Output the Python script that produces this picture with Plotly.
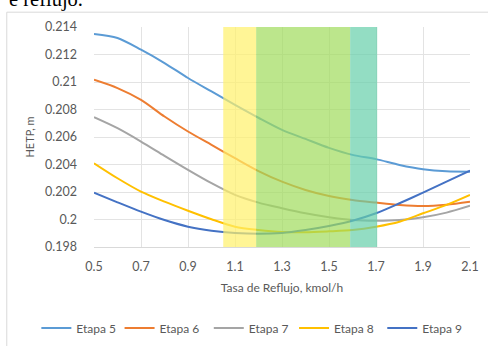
import plotly.graph_objects as go

reflujo = [0.5, 0.6, 0.7, 0.8, 0.9, 1.0, 1.1, 1.2, 1.3, 1.4, 1.5, 1.6, 1.7, 1.8, 1.9, 2.0, 2.1]

etapa5 = [0.21349, 0.2132, 0.21235, 0.21138, 0.21029, 0.20931, 0.20834, 0.2074, 0.20652,
          0.20586, 0.20521, 0.2047, 0.20439, 0.20397, 0.20366, 0.20351, 0.20348]
etapa6 = [0.21016, 0.20956, 0.2087, 0.20749, 0.2064, 0.20543, 0.20446, 0.20352, 0.20275,
          0.20215, 0.20171, 0.20142, 0.20123, 0.20106, 0.20098, 0.20108, 0.2013]
etapa7 = [0.20744, 0.20664, 0.20567, 0.20463, 0.20361, 0.20264, 0.20179, 0.20123, 0.20082,
          0.20045, 0.20016, 0.19996, 0.19991, 0.19996, 0.20016, 0.2005, 0.20100]
etapa8 = [0.20409, 0.2030, 0.20203, 0.2013, 0.20064, 0.20002, 0.19948, 0.19924, 0.19909,
          0.19907, 0.19914, 0.19924, 0.19948, 0.19984, 0.20045, 0.20106, 0.20179]
etapa9 = [0.20195, 0.20125, 0.20057, 0.19996, 0.19948, 0.19919, 0.19902, 0.19896, 0.19902,
          0.19924, 0.19953, 0.19991, 0.20045, 0.20118, 0.20195, 0.20275, 0.20356]

series_names = ["Etapa 5", "Etapa 6", "Etapa 7", "Etapa 8", "Etapa 9"]
series_colors = ["#5B9BD5", "#ED7D31", "#A5A5A5", "#FFC000", "#4472C4"]

x_ticks = [0.5, 0.7, 0.9, 1.1, 1.3, 1.5, 1.7, 1.9, 2.1]
x_ticktext = ["0.5", "0.7", "0.9", "1.1", "1.3", "1.5", "1.7", "1.9", "2.1"]
y_ticks = [0.198, 0.2, 0.202, 0.204, 0.206, 0.208, 0.21, 0.212, 0.214]
y_ticktext = ["0.198", "0.2", "0.202", "0.204", "0.206", "0.208", "0.21", "0.212", "0.214"]

# shaded bands (x ranges)
band_yellow = [1.05, 1.19]
band_green = [1.19, 1.59]
band_teal = [1.59, 1.705]

FONT = "Lato"
GRAY = "#595959"

# one single-entry legend per series, laid out in a row under the chart
legend_ids = ["legend", "legend2", "legend3", "legend4", "legend5"]
legend_x = [-0.1533, 0.068, 0.3053, 0.532, 0.7667]

fig = go.Figure()
for name, col, ys, lid in zip(series_names, series_colors,
                              [etapa5, etapa6, etapa7, etapa8, etapa9], legend_ids):
    fig.add_trace(go.Scatter(x=reflujo, y=ys, mode="lines", name=name, legend=lid,
                             line=dict(color=col, width=2, shape="spline", smoothing=0.8)))

for (x0, x1), col in [(band_yellow, "rgb(255,241,105)"), (band_green, "rgb(160,219,91)"),
                      (band_teal, "rgb(101,207,169)")]:
    fig.add_shape(type="rect", xref="x", yref="y", x0=x0, x1=x1, y0=0.198, y1=0.214,
                  fillcolor=col, opacity=0.7, line=dict(width=0), layer="above")

# chart frame
fig.add_shape(type="rect", xref="paper", yref="paper", x0=-0.232, x1=1.06, y0=-0.5, y1=1.0674,
              line=dict(color="#D9D9D9", width=1), fillcolor="rgba(0,0,0,0)", layer="below")

fig.add_annotation(text="e reflujo.", xref="paper", yref="paper", x=-0.232, y=1.124,
                   xanchor="left", yanchor="middle", showarrow=False,
                   font=dict(family="Liberation Serif", size=20.5, color="#000000"))

legend_layout = {}
for lid, lx in zip(legend_ids, legend_x):
    legend_layout[lid] = dict(orientation="h", x=lx, xanchor="left", y=-0.3687, yanchor="middle",
                              itemwidth=30, bgcolor="rgba(0,0,0,0)",
                              font=dict(family=FONT, size=12, color=GRAY))

fig.update_layout(
    width=488, height=346,
    margin=dict(l=94, r=18, t=27, b=99, autoexpand=False),
    paper_bgcolor="white", plot_bgcolor="white",
    font=dict(family=FONT, size=12, color=GRAY),
    showlegend=True,
    xaxis=dict(range=[0.5, 2.1], tickvals=x_ticks, ticktext=x_ticktext,
               showgrid=True, gridcolor="#E3E3E3", gridwidth=1,
               showline=True, linecolor="#D9D9D9", linewidth=1,
               zeroline=False, ticks="", ticklabelstandoff=8, tickangle=0,
               tickfont=dict(family=FONT, size=12.5, color=GRAY),
               title=dict(text="Tasa de Reflujo, kmol/h", standoff=10,
                          font=dict(family=FONT, size=12, color=GRAY))),
    yaxis=dict(range=[0.198, 0.214], tickvals=y_ticks, ticktext=y_ticktext,
               showgrid=True, gridcolor="#E3E3E3", gridwidth=1,
               showline=False, zeroline=False, ticks="", ticklabelstandoff=16,
               tickfont=dict(family=FONT, size=12.5, color=GRAY),
               title=dict(text="HETP, m", standoff=8,
                          font=dict(family=FONT, size=11, color=GRAY))),
    **legend_layout,
)

fig.write_html("out.html", config={"displayModeBar": False},
               post_script="document.body.style.margin='0';document.body.style.overflow='hidden';")
